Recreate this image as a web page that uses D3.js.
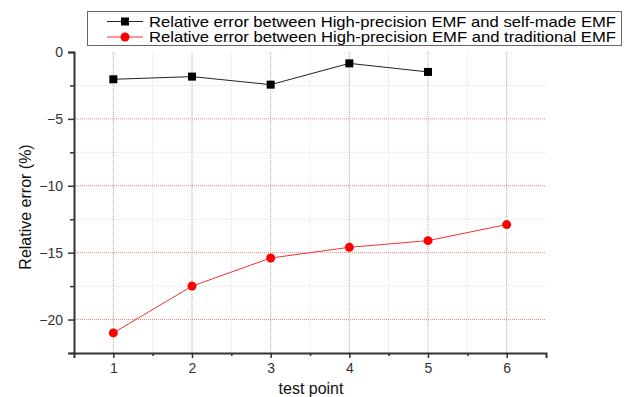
<!DOCTYPE html>
<html>
<head>
<meta charset="utf-8">
<script src="https://cdn.jsdelivr.net/npm/d3@7"></script>
<style>
  body { margin: 0; background: #fff; }
  svg { display: block; font-family: "Liberation Sans", Arial, sans-serif; }
</style>
</head>
<body>
<svg id="chart" width="631" height="397"></svg>
<script>
const testPoints = [1, 2, 3, 4, 5, 6];
const selfMade = [-2.04, -1.84, -2.44, -0.85, -1.49];
const traditional = [-21.0, -17.5, -15.4, -14.6, -14.1, -12.9];
const yTicks = [0, -5, -10, -15, -20];
const seriesNames = [
  "Relative error between High-precision EMF and self-made EMF",
  "Relative error between High-precision EMF and traditional EMF"
];

const svg = d3.select("#chart");
const x = d3.scaleLinear().domain([0.5, 6.5]).range([74, 546]);
const y = d3.scaleLinear().domain([-22.5, 0]).range([353, 52]);

// grid
const grid = svg.append("g");
grid.selectAll(".vmin")
  .data(d3.range(1.5, 6.5, 1))
  .join("line")
  .attr("x1", d => x(d)).attr("x2", d => x(d))
  .attr("y1", y(0)).attr("y2", y(-22.5))
  .attr("stroke", "#e2e2e2").attr("stroke-dasharray", "1,1");
grid.selectAll(".vmaj")
  .data(testPoints)
  .join("line")
  .attr("x1", d => x(d)).attr("x2", d => x(d))
  .attr("y1", y(0)).attr("y2", y(-22.5))
  .attr("stroke", "#aaa").attr("stroke-dasharray", "1,1");
grid.selectAll(".hmin")
  .data([-2.5, -7.5, -12.5, -17.5])
  .join("line")
  .attr("x1", x(0.5)).attr("x2", x(6.5))
  .attr("y1", d => y(d)).attr("y2", d => y(d))
  .attr("stroke", "#e2e2e2").attr("stroke-dasharray", "1,1");
grid.selectAll(".hmaj")
  .data([-5, -10, -15, -20])
  .join("line")
  .attr("x1", x(0.5)).attr("x2", x(6.5))
  .attr("y1", d => y(d)).attr("y2", d => y(d))
  .attr("stroke", "#f08080").attr("stroke-dasharray", "1,1");

// axes
const axisColor = "#333";
svg.append("g").attr("transform", `translate(0,${y(-22.5)})`)
  .call(d3.axisBottom(x).tickValues(testPoints).tickSize(5).tickPadding(5).tickFormat(d3.format("d")));
svg.append("g").attr("transform", `translate(0,${y(-22.5)})`)
  .call(d3.axisBottom(x).tickValues(d3.range(1.5, 6.5, 1)).tickSize(3).tickFormat(""))
  .select(".domain").remove();
svg.append("g").attr("transform", `translate(${x(0.5)},0)`)
  .call(d3.axisLeft(y).tickValues(yTicks).tickSize(6).tickPadding(5).tickFormat(d3.format("d")));
svg.append("g").attr("transform", `translate(${x(0.5)},0)`)
  .call(d3.axisLeft(y).tickValues([-2.5, -7.5, -12.5, -17.5, -22.5]).tickSize(4).tickFormat(""))
  .select(".domain").remove();
svg.selectAll(".domain").attr("stroke", axisColor).attr("stroke-width", 2);
svg.selectAll(".tick line").attr("stroke", axisColor).attr("stroke-width", 1.5);
svg.selectAll(".tick text").attr("fill", "#333").attr("font-size", 14)
  .attr("font-family", "Liberation Sans, Arial, sans-serif");

// titles
svg.append("text").attr("x", 311).attr("y", 394)
  .attr("text-anchor", "middle").attr("font-size", 16).attr("fill", "#111")
  .text("test point");
svg.append("text").attr("transform", "translate(31,207) rotate(-90)")
  .attr("text-anchor", "middle").attr("font-size", 16).attr("fill", "#111")
  .text("Relative error (%)");

// series
const line = d3.line().x((d, i) => x(testPoints[i])).y(d => y(d));
svg.append("path").datum(selfMade).attr("d", line)
  .attr("fill", "none").attr("stroke", "#222").attr("stroke-width", 1);
svg.selectAll(".sq").data(selfMade).join("rect")
  .attr("x", (d, i) => x(testPoints[i]) - 4).attr("y", d => y(d) - 4)
  .attr("width", 8).attr("height", 8).attr("fill", "#000");
svg.append("path").datum(traditional).attr("d", line)
  .attr("fill", "none").attr("stroke", "#e33").attr("stroke-width", 1);
svg.selectAll(".dot").data(traditional).join("circle")
  .attr("cx", (d, i) => x(testPoints[i])).attr("cy", d => y(d))
  .attr("r", 4.5).attr("fill", "#f00");

// legend
const lg = svg.append("g");
lg.append("rect").attr("x", 87.5).attr("y", 11.5).attr("width", 534).attr("height", 34)
  .attr("fill", "#fff").attr("stroke", "#666");
seriesNames.forEach((name, i) => {
  const cy = 21.5 + i * 15.5;
  lg.append("line").attr("x1", 107).attr("x2", 143).attr("y1", cy).attr("y2", cy)
    .attr("stroke", i ? "#e33" : "#222");
  if (i) lg.append("circle").attr("cx", 125).attr("cy", cy).attr("r", 4.5).attr("fill", "#f00");
  else lg.append("rect").attr("x", 121).attr("y", cy - 4).attr("width", 8).attr("height", 8).attr("fill", "#000");
  lg.append("text").attr("x", 149).attr("y", cy + 5).attr("font-size", 15).attr("fill", "#000")
    .attr("textLength", 467).attr("lengthAdjust", "spacingAndGlyphs")
    .text(name);
});
</script>
</body>
</html>
